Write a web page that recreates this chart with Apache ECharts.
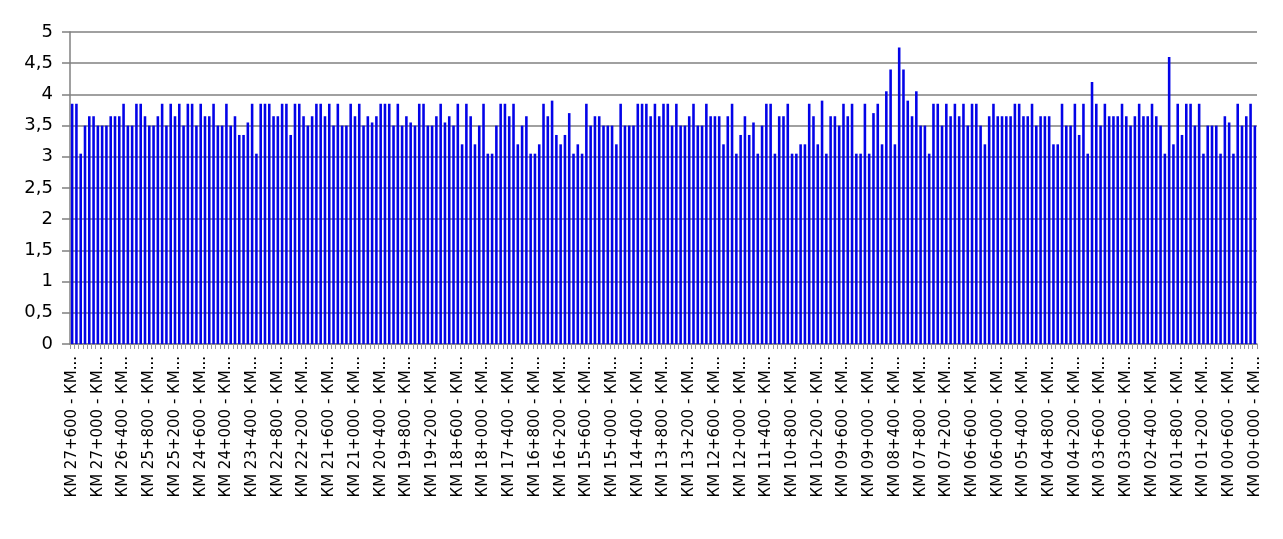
<!DOCTYPE html>
<html>
<head>
<meta charset="utf-8">
<script src="https://cdn.jsdelivr.net/npm/echarts@6/dist/echarts.min.js"></script>
<style>
  html, body { margin: 0; padding: 0; background: #fff; }
  #chart { width: 1283px; height: 539px; }
</style>
</head>
<body>
<div id="chart"></div>
<script>
// segments of 100 m, from KM 27+600 down to KM 00+000
const startMetres = 27600;
const stepMetres = 100;

const values = [
  // 27+600 .. 20+800
  3.85, 3.85, 3.05, 3.5, 3.65, 3.65, 3.5, 3.5, 3.5, 3.65,
  3.65, 3.65, 3.85, 3.5, 3.5, 3.85, 3.85, 3.65, 3.5, 3.5,
  3.65, 3.85, 3.5, 3.85, 3.65, 3.85, 3.5, 3.85, 3.85, 3.5,
  3.85, 3.65, 3.65, 3.85, 3.5, 3.5, 3.85, 3.5, 3.65, 3.35,
  3.35, 3.55, 3.85, 3.05, 3.85, 3.85, 3.85, 3.65, 3.65, 3.85,
  3.85, 3.35, 3.85, 3.85, 3.65, 3.5, 3.65, 3.85, 3.85, 3.65,
  3.85, 3.5, 3.85, 3.5, 3.5, 3.85, 3.65, 3.85, 3.5,
  // next block
  3.65, 3.55, 3.65, 3.85, 3.85, 3.85, 3.5, 3.85, 3.5, 3.65,
  3.55, 3.5, 3.85, 3.85, 3.5, 3.5, 3.65, 3.85, 3.55, 3.65,
  3.5, 3.85, 3.2, 3.85, 3.65, 3.2, 3.5, 3.85, 3.05, 3.05,
  3.5, 3.85, 3.85, 3.65, 3.85, 3.2, 3.5, 3.65, 3.05, 3.05,
  3.2, 3.85, 3.65, 3.9, 3.35, 3.2, 3.35, 3.7, 3.05, 3.2,
  3.05, 3.85, 3.5, 3.65, 3.65, 3.5, 3.5, 3.5, 3.2, 3.85,
  3.5, 3.5, 3.5, 3.85, 3.85, 3.85, 3.65, 3.85, 3.65, 3.85, 3.85,
  // next block
  3.5, 3.85, 3.5, 3.5, 3.65, 3.85, 3.5, 3.5, 3.85, 3.65,
  3.65, 3.65, 3.2, 3.65, 3.85, 3.05, 3.35, 3.65, 3.35, 3.55,
  3.05, 3.5, 3.85, 3.85, 3.05, 3.65, 3.65, 3.85, 3.05, 3.05,
  3.2, 3.2, 3.85, 3.65, 3.2, 3.9, 3.05, 3.65, 3.65, 3.5,
  3.85, 3.65, 3.85, 3.05, 3.05, 3.85, 3.05, 3.7, 3.85, 3.2,
  4.05, 4.4, 3.2, 4.75, 4.4, 3.9, 3.65, 4.05, 3.5, 3.5,
  3.05, 3.85, 3.85, 3.5, 3.85, 3.65, 3.85, 3.65, 3.85, 3.5,
  // last block
  3.85, 3.85, 3.5, 3.2, 3.65, 3.85, 3.65, 3.65, 3.65, 3.65,
  3.85, 3.85, 3.65, 3.65, 3.85, 3.5, 3.65, 3.65, 3.65, 3.2,
  3.2, 3.85, 3.5, 3.5, 3.85, 3.35, 3.85, 3.05, 4.2, 3.85,
  3.5, 3.85, 3.65, 3.65, 3.65, 3.85, 3.65, 3.5, 3.65, 3.85,
  3.65, 3.65, 3.85, 3.65, 3.5, 3.05, 4.6, 3.2, 3.85, 3.35,
  3.85, 3.85, 3.5, 3.85, 3.05, 3.5, 3.5, 3.5, 3.05, 3.65,
  3.55, 3.05, 3.85, 3.5, 3.65, 3.85, 3.5
];

const yTicks = [0, 0.5, 1, 1.5, 2, 2.5, 3, 3.5, 4, 4.5, 5];

const categories = [];
for (let i = 0; i < values.length; i++) {
  const m = startMetres - i * stepMetres;
  const km = String(Math.floor(m / 1000)).padStart(2, '0');
  const rest = String(m % 1000).padStart(3, '0');
  categories.push('КМ ' + km + '+' + rest + ' - КМ...');
}

const chart = echarts.init(document.getElementById('chart'));
const option = {
  animation: false,
  grid: {
    left: 70,
    right: 26,
    top: 32,
    bottom: 195,
    containLabel: false,
  },
  xAxis: {
    type: 'category',
    data: categories,
    axisLine: { lineStyle: { color: '#808080', width: 1.5 } },
    axisTick: { show: true, interval: 0, length: 5, lineStyle: { color: '#9a9a9a' } },
    axisLabel: {
      interval: 5,
      rotate: 90,
      margin: 12,
      color: '#000',
      fontSize: 15,
      fontFamily: 'DejaVu Sans, sans-serif',
    },
  },
  yAxis: {
    type: 'value',
    min: yTicks[0],
    max: yTicks[yTicks.length - 1],
    interval: 0.5,
    axisLine: { show: true, lineStyle: { color: '#808080', width: 1.5 } },
    axisTick: { show: true, length: 8, lineStyle: { color: '#808080', width: 1.5 } },
    axisLabel: {
      margin: 17,
      color: '#000',
      fontSize: 18,
      fontFamily: 'DejaVu Sans, sans-serif',
      formatter: (v) => String(v).replace('.', ','),
    },
    splitLine: { lineStyle: { color: '#808080', width: 1.5 } },
  },
  series: [
    {
      type: 'bar',
      data: values,
      barWidth: '60%',
      itemStyle: { color: '#0303e8' },
    },
  ],
};
chart.setOption(option);
</script>
</body>
</html>
